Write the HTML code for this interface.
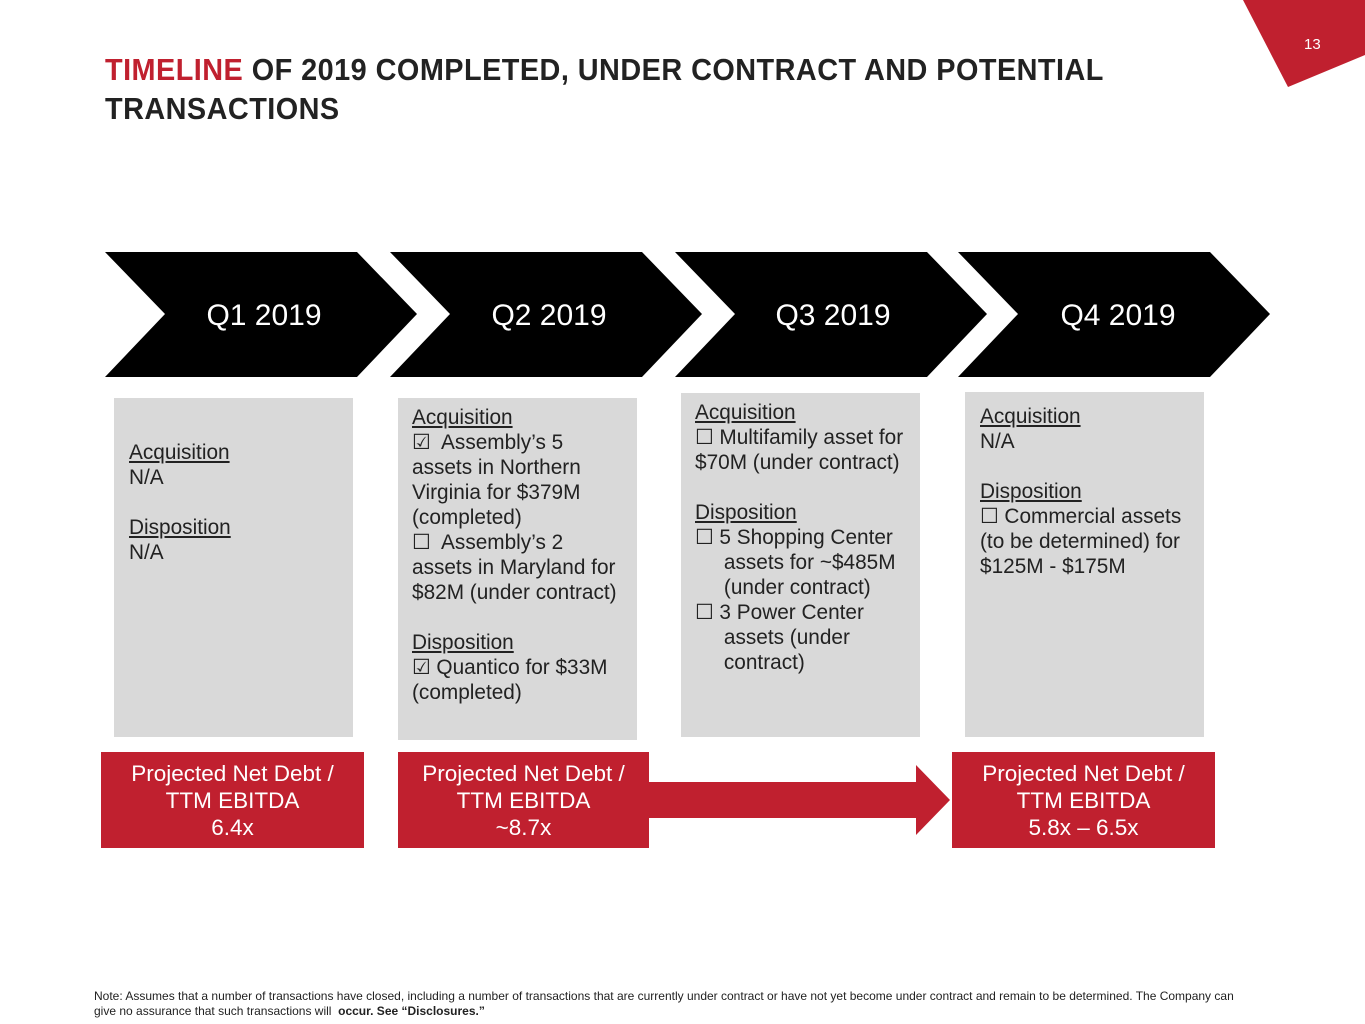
<!DOCTYPE html>
<html><head><style>
body{margin:0;width:1365px;height:1024px;background:#fff;position:relative;overflow:hidden;font-family:"Liberation Sans",sans-serif;}
.t{position:absolute;font-size:20.8px;line-height:25px;color:#222;white-space:nowrap}
u{text-decoration:underline}
.rb{position:absolute;background:#c0202f;color:#fff;font-size:22.5px;line-height:27px;text-align:center;top:752px;height:96px;padding-top:8px;box-sizing:border-box}
.g{position:absolute;background:#d9d9d9}
</style></head><body>
<svg width="1365" height="1024" style="position:absolute;left:0;top:0">
<polygon points="1243,0 1365,0 1365,55 1288,87" fill="#c0202f"/>
<g fill="#000">
<polygon points="105,252 357,252 417,314 357,377 105,377 165,314"/>
<polygon points="390,252 642,252 702,314 642,377 390,377 450,314"/>
<polygon points="675,252 927,252 987,314 927,377 675,377 735,314"/>
<polygon points="958,252 1210,252 1270,314 1210,377 958,377 1018,314"/>
</g>
<g fill="#fff" font-family="Liberation Sans" font-size="30" text-anchor="middle">
<text x="264" y="325">Q1 2019</text><text x="549" y="325">Q2 2019</text>
<text x="833" y="325">Q3 2019</text><text x="1118" y="325">Q4 2019</text>
</g>
<polygon points="649,782 916,782 916,765 950,800 916,835 916,818 649,818" fill="#c0202f"/>
</svg>
<div class="t" style="left:1304px;top:32px;font-size:15px;color:#fff">13</div>
<div class="t" style="left:105px;top:50px;font-size:31px;line-height:39px;font-weight:bold;letter-spacing:0.5px;transform:scaleX(0.93);transform-origin:left"><span style="color:#c0202f">TIMELINE</span> OF 2019 COMPLETED, UNDER CONTRACT AND POTENTIAL<br>TRANSACTIONS</div>
<div class="g" style="left:114px;top:398px;width:239px;height:339px"></div>
<div class="g" style="left:398px;top:398px;width:239px;height:342px"></div>
<div class="g" style="left:681px;top:393px;width:239px;height:344px"></div>
<div class="g" style="left:965px;top:392px;width:239px;height:345px"></div>
<div class="t" style="left:129px;top:440px"><u>Acquisition</u><br>N/A<br><br><u>Disposition</u><br>N/A</div>
<div class="t" style="left:412px;top:405px"><u>Acquisition</u><br>☑&nbsp; Assembly’s 5<br>assets in Northern<br>Virginia for $379M<br>(completed)<br>☐&nbsp; Assembly’s 2<br>assets in Maryland for<br>$82M (under contract)<br><br><u>Disposition</u><br>☑ Quantico for $33M<br>(completed)</div>
<div class="t" style="left:695px;top:400px"><u>Acquisition</u><br>☐ Multifamily asset for<br>$70M (under contract)<br><br><u>Disposition</u><br>☐ 5 Shopping Center<br>&nbsp;&nbsp;&nbsp;&nbsp; assets for ~$485M<br>&nbsp;&nbsp;&nbsp;&nbsp; (under contract)<br>☐ 3 Power Center<br>&nbsp;&nbsp;&nbsp;&nbsp; assets (under<br>&nbsp;&nbsp;&nbsp;&nbsp; contract)</div>
<div class="t" style="left:980px;top:404px"><u>Acquisition</u><br>N/A<br><br><u>Disposition</u><br>☐ Commercial assets<br>(to be determined) for<br>$125M - $175M</div>
<div class="rb" style="left:101px;width:263px">Projected Net Debt /<br>TTM EBITDA<br>6.4x</div>
<div class="rb" style="left:398px;width:251px">Projected Net Debt /<br>TTM EBITDA<br>~8.7x</div>
<div class="rb" style="left:952px;width:263px">Projected Net Debt /<br>TTM EBITDA<br>5.8x – 6.5x</div>
<div class="t" style="left:94px;top:989px;font-size:12px;line-height:15px;color:#222">Note: Assumes that a number of transactions have closed, including a number of transactions that are currently under contract or have not yet become under contract and remain to be determined. The Company can<br>give no assurance that such transactions will &nbsp;<b>occur. See “Disclosures.”</b></div>
</body></html>
